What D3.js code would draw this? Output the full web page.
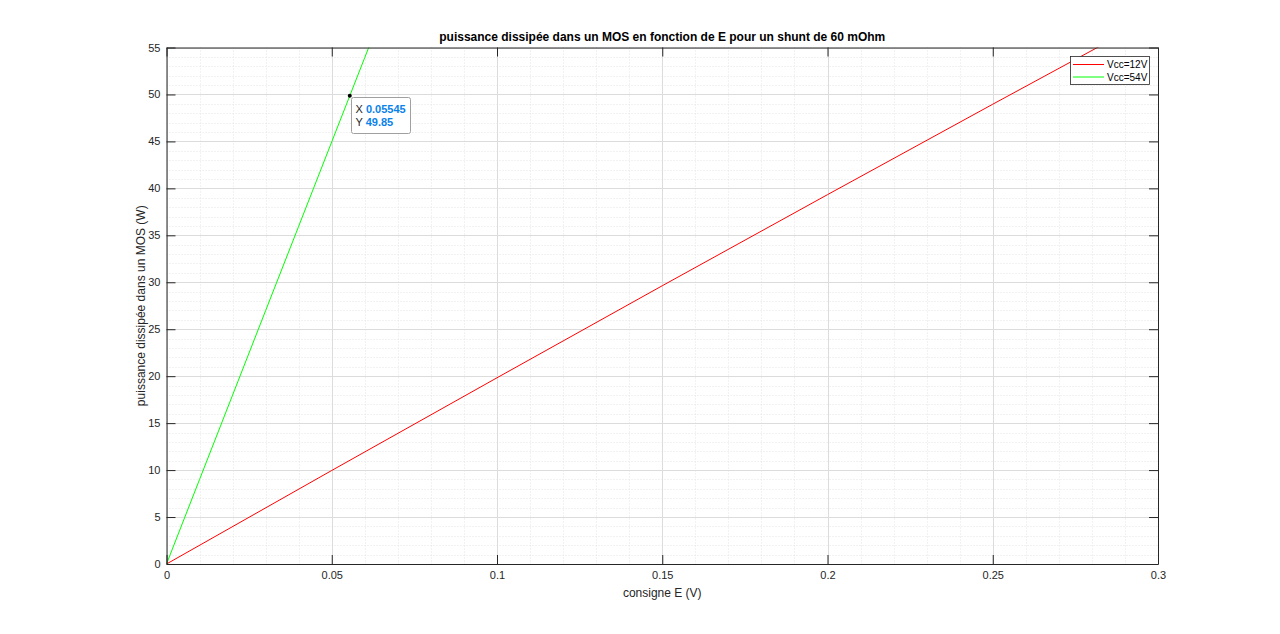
<!DOCTYPE html>
<html><head><meta charset="utf-8">
<script src="https://cdn.jsdelivr.net/npm/d3@7"></script>
<style>
html,body{margin:0;padding:0;background:#fff;}
text{font-family:"Liberation Sans",Arial,Helvetica,sans-serif;}
</style></head>
<body><svg id="c" width="1280" height="634"></svg>
<script>
const title = "puissance dissipée dans un MOS en fonction de E pour un shunt de 60 mOhm";
const xLabel = "consigne E (V)";
const yLabel = "puissance dissipée dans un MOS (W)";
const seriesNames = ["Vcc=12V", "Vcc=54V"];
const seriesColors = ["#ff0000", "#00ff00"];
const eRed = [0, 0.05, 0.10, 0.15, 0.20, 0.25, 0.30];
const pRed = [0, 9.96, 19.83, 29.63, 39.33, 48.96, 58.5];
const eGreen = [0, 0.01, 0.02, 0.03, 0.04, 0.05, 0.05545, 0.06, 0.07];
const pGreen = [0, 9.0, 17.99, 26.99, 35.97, 44.96, 49.85, 53.94, 62.92];
const xTicks = [0, 0.05, 0.1, 0.15, 0.2, 0.25, 0.3];
const yTicks = [0, 5, 10, 15, 20, 25, 30, 35, 40, 45, 50, 55];
const tipX = 0.05545, tipY = 49.85;

const svg = d3.select("#c");
const L = 166.5, R = 1158, T = 47.5, B = 564;
const x = d3.scaleLinear().domain([0, 0.3]).range([L, R]);
const y = d3.scaleLinear().domain([0, 55]).range([B, T]);
const axisCol = "#262626";

// minor grid
const xMinor = d3.range(0, 0.3001, 0.01);
const yMinor = d3.range(0, 55.001, 1);
const g = svg.append("g");
g.selectAll(".xm").data(xMinor).join("line")
  .attr("x1", d => Math.round(x(d)) + 0.5).attr("x2", d => Math.round(x(d)) + 0.5)
  .attr("y1", T).attr("y2", B).attr("stroke", "#e4e4e4").attr("stroke-dasharray", "1,2");
g.selectAll(".ym").data(yMinor).join("line")
  .attr("y1", d => Math.round(y(d)) + 0.5).attr("y2", d => Math.round(y(d)) + 0.5)
  .attr("x1", L).attr("x2", R).attr("stroke", "#e4e4e4").attr("stroke-dasharray", "1,2");
// major grid
g.selectAll(".xg").data(xTicks).join("line")
  .attr("x1", d => Math.round(x(d)) + 0.5).attr("x2", d => Math.round(x(d)) + 0.5)
  .attr("y1", T).attr("y2", B).attr("stroke", "#dcdcdc");
g.selectAll(".yg").data(yTicks).join("line")
  .attr("y1", d => Math.round(y(d)) + 0.5).attr("y2", d => Math.round(y(d)) + 0.5)
  .attr("x1", L).attr("x2", R).attr("stroke", "#dcdcdc");

// lines
svg.append("clipPath").attr("id", "clip").append("rect")
  .attr("x", L).attr("y", T).attr("width", R - L).attr("height", B - T);
const line = d3.line().x(d => x(d[0])).y(d => y(d[1]));
const series = [d3.zip(eRed, pRed), d3.zip(eGreen, pGreen)];
svg.append("g").attr("clip-path", "url(#clip)").selectAll("path").data(series).join("path")
  .attr("d", line).attr("fill", "none")
  .attr("stroke", (d, i) => seriesColors[i]).attr("stroke-width", 1);

// axes
const fmt = d => d === 0 ? "0" : String(+d.toFixed(2));
const tickLen = 9;
const axB = svg.append("g").attr("transform", `translate(0,${B})`)
  .call(d3.axisBottom(x).tickValues(xTicks).tickFormat(fmt).tickSizeInner(-tickLen).tickSizeOuter(0).tickPadding(14));
const axT = svg.append("g").attr("transform", `translate(0,${T})`)
  .call(d3.axisTop(x).tickValues(xTicks).tickFormat("").tickSizeInner(-tickLen).tickSizeOuter(0));
const axL = svg.append("g").attr("transform", `translate(${L},0)`)
  .call(d3.axisLeft(y).tickValues(yTicks).tickFormat(fmt).tickSizeInner(-tickLen).tickSizeOuter(0).tickPadding(14));
const axR = svg.append("g").attr("transform", `translate(${R},0)`)
  .call(d3.axisRight(y).tickValues(yTicks).tickFormat("").tickSizeInner(-tickLen).tickSizeOuter(0));
[axB, axT, axL, axR].forEach(a => {
  a.select(".domain").attr("stroke", axisCol);
  a.selectAll(".tick line").attr("stroke", axisCol);
  a.selectAll("text").attr("fill", axisCol).attr("font-size", 11)
    .attr("font-family", "'Liberation Sans',Arial,sans-serif");
});
axB.selectAll(".tick text").attr("dy", "0.71em").attr("y", 7);
axL.selectAll(".tick text").attr("x", -6);

// title & labels
svg.append("text").attr("x", (L + R) / 2).attr("y", 41).attr("text-anchor", "middle")
  .attr("font-size", 12).attr("font-weight", "bold").attr("fill", "#000").text(title);
svg.append("text").attr("x", (L + R) / 2).attr("y", 597).attr("text-anchor", "middle")
  .attr("font-size", 12).attr("fill", axisCol).text(xLabel);
svg.append("text").attr("transform", `translate(145,${(T + B) / 2}) rotate(-90)`)
  .attr("text-anchor", "middle").attr("font-size", 12).attr("fill", axisCol).text(yLabel);

// legend
const lg = svg.append("g");
lg.append("rect").attr("x", 1070.5).attr("y", 56.5).attr("width", 79).attr("height", 28)
  .attr("fill", "#fff").attr("stroke", axisCol).attr("stroke-width", 0.8);
seriesNames.forEach((n, i) => {
  const yy = 64.5 + i * 12.5;
  lg.append("line").attr("x1", 1073).attr("x2", 1104).attr("y1", yy).attr("y2", yy)
    .attr("stroke", seriesColors[i]);
  lg.append("text").attr("x", 1107).attr("y", yy + 3.5).attr("font-size", 10)
    .attr("fill", "#000").text(n);
});

// data tip
const px = x(tipX), py = y(tipY);
const tip = svg.append("g");
tip.append("rect").attr("x", 351.5).attr("y", 97.5).attr("width", 59).attr("height", 36).attr("rx", 2)
  .attr("fill", "#fff").attr("fill-opacity", 0.95).attr("stroke", "#a0a0a0");
tip.append("circle").attr("cx", px).attr("cy", py).attr("r", 2).attr("fill", "#000");
[["X ", "0.05545"], ["Y ", "49.85"]].forEach((r, i) => {
  const t = tip.append("text").attr("x", 355.5).attr("y", 112.5 + i * 13).attr("font-size", 11);
  t.append("tspan").attr("fill", "#262626").text(r[0]);
  t.append("tspan").attr("fill", "#0a82ea").attr("font-weight", "bold").text(r[1]);
});
</script></body></html>
